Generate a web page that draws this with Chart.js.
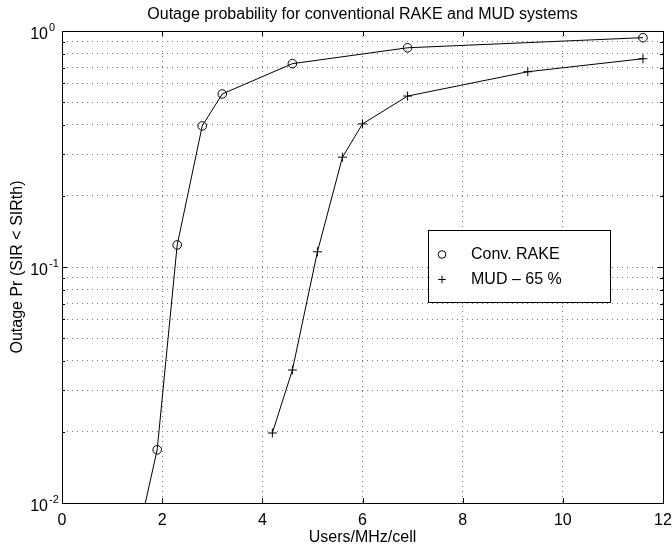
<!DOCTYPE html>
<html>
<head>
<meta charset="utf-8">
<script src="https://cdn.jsdelivr.net/npm/chart.js@4.4.0/dist/chart.umd.min.js"></script>
<style>
    html, body { margin: 0; padding: 0; background: #fff; }
    canvas { display: block; }
</style>
</head>
<body>
<canvas id="outageChart" width="672" height="548"></canvas>
<script>
// Values
const rakeX = [1.5, 1.9, 2.3, 2.8, 3.2, 4.6, 6.9, 11.6];
const rakeY = [0.007, 0.0168, 0.124, 0.396, 0.541, 0.727, 0.849, 0.937];
const mudX = [4.2, 4.6, 5.1, 5.6, 6.0, 6.9, 9.3, 11.6];
const mudY = [0.0198, 0.0366, 0.116, 0.292, 0.404, 0.530, 0.672, 0.763];

const xTickValues = [0, 2, 4, 6, 8, 10, 12];
const yDecades = [0.01, 0.1, 1];
const yDecadeExp = ['-2', '-1', '0'];
const yMinorSteps = [2, 3, 4, 5, 6, 7, 8, 9];

const FONT = '"Liberation Sans", Arial, Helvetica, sans-serif';

// every grid line on the log axis: decades plus 2..9 inside each decade
function yGridValues() {
    const vals = [];
    yDecades.forEach((d, i) => {
        vals.push(d);
        if (i < yDecades.length - 1) yMinorSteps.forEach(m => vals.push(+(d * m).toPrecision(3)));
    });
    return vals;
}

function toPoints(xs, ys) {
    return xs.map((x, i) => ({ x: x, y: ys[i] }));
}

// Box, inside ticks, tick labels, titles and legend drawn MATLAB-style
const matlabFrame = {
    id: 'matlabFrame',
    afterDatasetsDraw(chart) {
        const { ctx, chartArea: a, scales: { x, y } } = chart;
        ctx.save();
        ctx.strokeStyle = '#000';
        ctx.lineWidth = 1;

        // tick marks pointing inwards
        ctx.beginPath();
        xTickValues.forEach(v => {
            const px = Math.round(x.getPixelForValue(v)) + 0.5;
            ctx.moveTo(px, a.bottom); ctx.lineTo(px, a.bottom - 5);
            ctx.moveTo(px, a.top); ctx.lineTo(px, a.top + 5);
        });
        yGridValues().forEach(v => {
            const py = Math.round(y.getPixelForValue(v)) + 0.5;
            const len = yDecades.includes(v) ? 5 : 3;
            ctx.moveTo(a.left, py); ctx.lineTo(a.left + len, py);
            ctx.moveTo(a.right, py); ctx.lineTo(a.right - len, py);
        });
        ctx.stroke();

        // axes box
        ctx.strokeRect(a.left + 0.5, a.top + 0.5, a.right - a.left, a.bottom - a.top);

        ctx.fillStyle = '#000';

        // x tick labels
        ctx.font = '16px ' + FONT;
        ctx.textAlign = 'center';
        ctx.textBaseline = 'alphabetic';
        xTickValues.forEach(v => {
            ctx.fillText(String(v), x.getPixelForValue(v), a.bottom + 22);
        });

        // y tick labels 10^n
        yDecades.forEach((d, i) => {
            const py = y.getPixelForValue(d);
            ctx.font = '16px ' + FONT;
            ctx.textAlign = 'right';
            ctx.fillText('10', a.left - 14, py + 7.5);
            ctx.font = '11px ' + FONT;
            ctx.textAlign = 'left';
            ctx.fillText(yDecadeExp[i], a.left - 13, py);
        });

        // titles
        ctx.font = '16px ' + FONT;
        ctx.textAlign = 'center';
        const cx = (a.left + a.right) / 2;
        ctx.fillText('Outage probability for conventional RAKE and MUD systems', cx, 19);
        ctx.fillText('Users/MHz/cell', cx, a.bottom + 39);

        ctx.save();
        ctx.translate(22, (a.top + a.bottom) / 2);
        ctx.rotate(-Math.PI / 2);
        ctx.fillText('Outage Pr (SIR < SIRth)', 0, 0);
        ctx.restore();

        ctx.restore();
    },
    afterDraw(chart) {
        const { ctx } = chart;
        const box = { left: 428, top: 230, width: 182, height: 72 };
        ctx.save();
        ctx.fillStyle = '#fff';
        ctx.fillRect(box.left, box.top, box.width, box.height);
        ctx.strokeStyle = '#000';
        ctx.lineWidth = 1;
        ctx.strokeRect(box.left + 0.5, box.top + 0.5, box.width, box.height);

        chart.data.datasets.forEach((ds, i) => {
            const cy = box.top + 24.5 + i * 25;
            Chart.helpers.drawPoint(ctx, {
                pointStyle: ds.pointStyle,
                radius: 3.8,
                borderWidth: 1,
                rotation: 0
            }, box.left + 14, cy);
            ctx.strokeStyle = '#000';
            ctx.fillStyle = '#000';
            ctx.font = '16px ' + FONT;
            ctx.textAlign = 'left';
            ctx.textBaseline = 'middle';
            ctx.fillText(ds.label, box.left + 43, cy);
        });
        ctx.restore();
    }
};

const gridStyle = {
    color: '#777',
    lineWidth: 1,
    drawTicks: false
};

new Chart(document.getElementById('outageChart'), {
    type: 'line',
    data: {
        datasets: [
            {
                label: 'Conv. RAKE',
                data: toPoints(rakeX, rakeY),
                borderColor: '#000',
                borderWidth: 1,
                pointStyle: 'circle',
                pointRadius: 4.3,
                pointBorderColor: '#000',
                pointBackgroundColor: 'rgba(0,0,0,0)',
                pointBorderWidth: 1,
                tension: 0
            },
            {
                label: 'MUD \u2013 65 %',
                data: toPoints(mudX, mudY),
                borderColor: '#000',
                borderWidth: 1,
                pointStyle: 'cross',
                pointRadius: 4.5,
                pointBorderColor: '#000',
                pointBorderWidth: 1,
                tension: 0
            }
        ]
    },
    options: {
        responsive: false,
        animation: false,
        devicePixelRatio: 1,
        layout: {
            autoPadding: false,
            padding: { left: 62, top: 31, right: 9, bottom: 45 }
        },
        plugins: {
            legend: { display: false },
            tooltip: { enabled: false },
            title: { display: false }
        },
        scales: {
            x: {
                type: 'linear',
                min: 0,
                max: 12,
                afterBuildTicks: (scale) => {
                    scale.ticks = xTickValues.map(v => ({ value: v }));
                },
                ticks: { display: false },
                grid: gridStyle,
                border: { display: false, dash: [1, 4] }
            },
            y: {
                type: 'logarithmic',
                min: 0.01,
                max: 1,
                afterBuildTicks: (scale) => {
                    scale.ticks = yGridValues().map(v => ({ value: v }));
                },
                ticks: { display: false },
                grid: gridStyle,
                border: { display: false, dash: [1, 4] }
            }
        }
    },
    plugins: [matlabFrame]
});
</script>
</body>
</html>
